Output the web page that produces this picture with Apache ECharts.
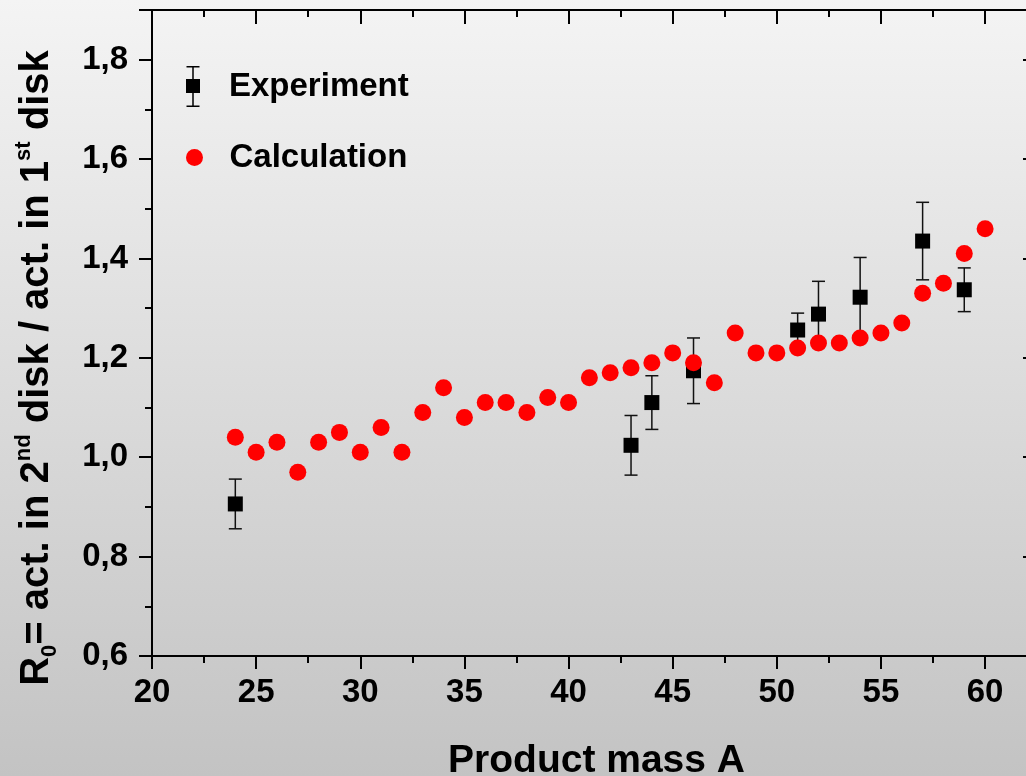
<!DOCTYPE html>
<html>
<head>
<meta charset="utf-8">
<script src="https://cdn.jsdelivr.net/npm/echarts@6.0.0/dist/echarts.min.js"></script>
<style>
    html, body { margin: 0; padding: 0; }
    #chart-container {
        width: 1026px;
        height: 776px;
        background: linear-gradient(to bottom, #f4f4f4, #c3c3c3);
    }
</style>
</head>
<body>
<div id="chart-container"></div>
<script>
// Calculation (red dots)
const calcMass = [24, 25, 26, 27, 28, 29, 30, 31, 32, 33, 34, 35, 36, 37, 38, 39, 40, 41, 42,
    43, 44, 45, 46, 47, 48, 49, 50, 51, 52, 53, 54, 55, 56, 57, 58, 59, 60];
const calcValue = [1.04, 1.01, 1.03, 0.97, 1.03, 1.05, 1.01, 1.06, 1.01, 1.09, 1.14, 1.08, 1.11,
    1.11, 1.09, 1.12, 1.11, 1.16, 1.17, 1.18, 1.19, 1.21, 1.19, 1.15, 1.25, 1.21, 1.21, 1.22,
    1.23, 1.23, 1.24, 1.25, 1.27, 1.33, 1.35, 1.41, 1.46];

// Experiment (black squares with error bars)
const expMass = [24, 43, 44, 46, 51, 52, 54, 57, 59];
const expValue = [0.906, 1.024, 1.110, 1.174, 1.256, 1.288, 1.322, 1.435, 1.337];
const expError = [0.050, 0.060, 0.054, 0.066, 0.034, 0.066, 0.080, 0.078, 0.044];

const xTicks = [20, 25, 30, 35, 40, 45, 50, 55, 60];
const yTicks = [0.6, 0.8, 1.0, 1.2, 1.4, 1.6, 1.8];

document.addEventListener('DOMContentLoaded', function () {

    const chartContainer = document.getElementById('chart-container');
    const font = '"Liberation Sans", Arial, sans-serif';

    const calcData = calcMass.map((m, i) => [m, calcValue[i]]);
    const expData = expMass.map((m, i) => [m, expValue[i]]);
    const errData = expMass.map((m, i) => [m, expValue[i] - expError[i], expValue[i] + expError[i]]);

    function renderErrorBar(params, api) {
        const x = api.value(0);
        const top = api.coord([x, api.value(2)]);
        const bottom = api.coord([x, api.value(1)]);
        const half = 6.5;
        const style = { stroke: '#111', lineWidth: 1.5 };
        return {
            type: 'group',
            children: [
                { type: 'line', shape: { x1: top[0], y1: top[1], x2: bottom[0], y2: bottom[1] }, style: style },
                { type: 'line', shape: { x1: top[0] - half, y1: top[1], x2: top[0] + half, y2: top[1] }, style: style },
                { type: 'line', shape: { x1: bottom[0] - half, y1: bottom[1], x2: bottom[0] + half, y2: bottom[1] }, style: style }
            ]
        };
    }

    const xLabel = v => xTicks.indexOf(v) >= 0 ? String(v) : '';
    const yLabel = v => yTicks.some(t => Math.abs(t - v) < 1e-6) ? v.toFixed(1).replace('.', ',') : '';

    const black = { color: '#000', width: 2 };

    const baseX = {
        type: 'value',
        min: 20,
        max: 62.3,
        interval: 5,
        splitLine: { show: false },
        axisLine: { lineStyle: black },
        minorTick: { show: true, splitNumber: 2, length: 7, lineStyle: black }
    };
    const baseY = {
        type: 'value',
        min: 0.6,
        max: 1.9,
        interval: 0.2,
        splitLine: { show: false },
        axisLine: { lineStyle: black }
    };

    const errorIcon = 'path://M0.5,0H13.5V1.5H0.5Z M6.25,0H7.75V41H6.25Z M0,13H14V27H0Z M0.5,39.5H13.5V41H0.5Z';
    const legendText = { fontSize: 33, fontWeight: 'bold', color: '#000', fontFamily: font, lineHeight: 41 };

    const option = {
        animation: false,
        textStyle: { fontFamily: font },
        grid: { left: 152, top: 10, width: 881, height: 646, outerBoundsMode: 'none' },
        legend: [
            {
                data: [{ name: 'Experiment', icon: errorIcon }],
                left: 186, top: 64, padding: 0,
                itemWidth: 62, itemHeight: 41,
                textStyle: Object.assign({}, legendText, { padding: [4, 0, 0, 0] })
            },
            {
                data: [{ name: 'Calculation', icon: 'circle' }],
                left: 186, top: 137, padding: 0,
                itemWidth: 60, itemHeight: 17,
                textStyle: legendText
            }
        ],
        xAxis: [
            Object.assign({}, baseX, {
                position: 'bottom',
                name: 'Product mass A',
                nameLocation: 'middle',
                nameGap: 86,
                nameTextStyle: { fontSize: 39, fontWeight: 'bold', color: '#000', fontFamily: font, padding: [0, 0, 0, 8] },
                axisTick: { inside: false, length: 13, lineStyle: black },
                axisLabel: { fontSize: 33, fontWeight: 'bold', color: '#000', fontFamily: font, margin: 20, formatter: xLabel, showMaxLabel: false }
            }),
            Object.assign({}, baseX, {
                position: 'top',
                axisTick: { inside: true, length: 14, lineStyle: black },
                axisLabel: { show: false }
            })
        ],
        yAxis: [
            Object.assign({}, baseY, {
                position: 'left',
                axisTick: { inside: false, length: 13, lineStyle: black },
                minorTick: { show: true, splitNumber: 2, length: 7, lineStyle: black },
                axisLabel: { fontSize: 33, fontWeight: 'bold', color: '#000', fontFamily: font, margin: 24, formatter: yLabel, showMaxLabel: false }
            }),
            Object.assign({}, baseY, {
                position: 'right',
                axisTick: { inside: true, length: 10, lineStyle: black },
                axisLabel: { show: false }
            })
        ],
        graphic: [
            {
                type: 'text',
                x: 37,
                y: 368,
                rotation: Math.PI / 2,
                style: {
                    text: 'R{sub|0}= act. in 2{sup|nd} disk / act. in 1{sup|st} disk',
                    fontSize: 40,
                    fontWeight: 'bold',
                    fontFamily: font,
                    fill: '#000',
                    align: 'center',
                    verticalAlign: 'middle',
                    lineHeight: 48,
                    rich: {
                        sub: { fontSize: 22, fontWeight: 'bold', fontFamily: font, verticalAlign: 'bottom', lineHeight: 48 },
                        sup: { fontSize: 22, fontWeight: 'bold', fontFamily: font, verticalAlign: 'top', lineHeight: 48 }
                    }
                }
            }
        ],
        series: [
            {
                name: 'Experiment',
                type: 'custom',
                renderItem: renderErrorBar,
                encode: { x: 0, y: [1, 2] },
                data: errData,
                itemStyle: { color: '#000' },
                z: 2
            },
            {
                name: 'Experiment',
                type: 'scatter',
                symbol: 'rect',
                symbolSize: 15,
                data: expData,
                itemStyle: { color: '#000', opacity: 1 },
                z: 3
            },
            {
                name: 'Calculation',
                type: 'scatter',
                symbol: 'circle',
                symbolSize: 17,
                data: calcData,
                itemStyle: { color: '#ff0000', opacity: 1 },
                z: 4
            }
        ]
    };

    const chart = echarts.init(chartContainer, null, { renderer: 'canvas' });
    chart.setOption(option);

})
</script>
</body>
</html>
